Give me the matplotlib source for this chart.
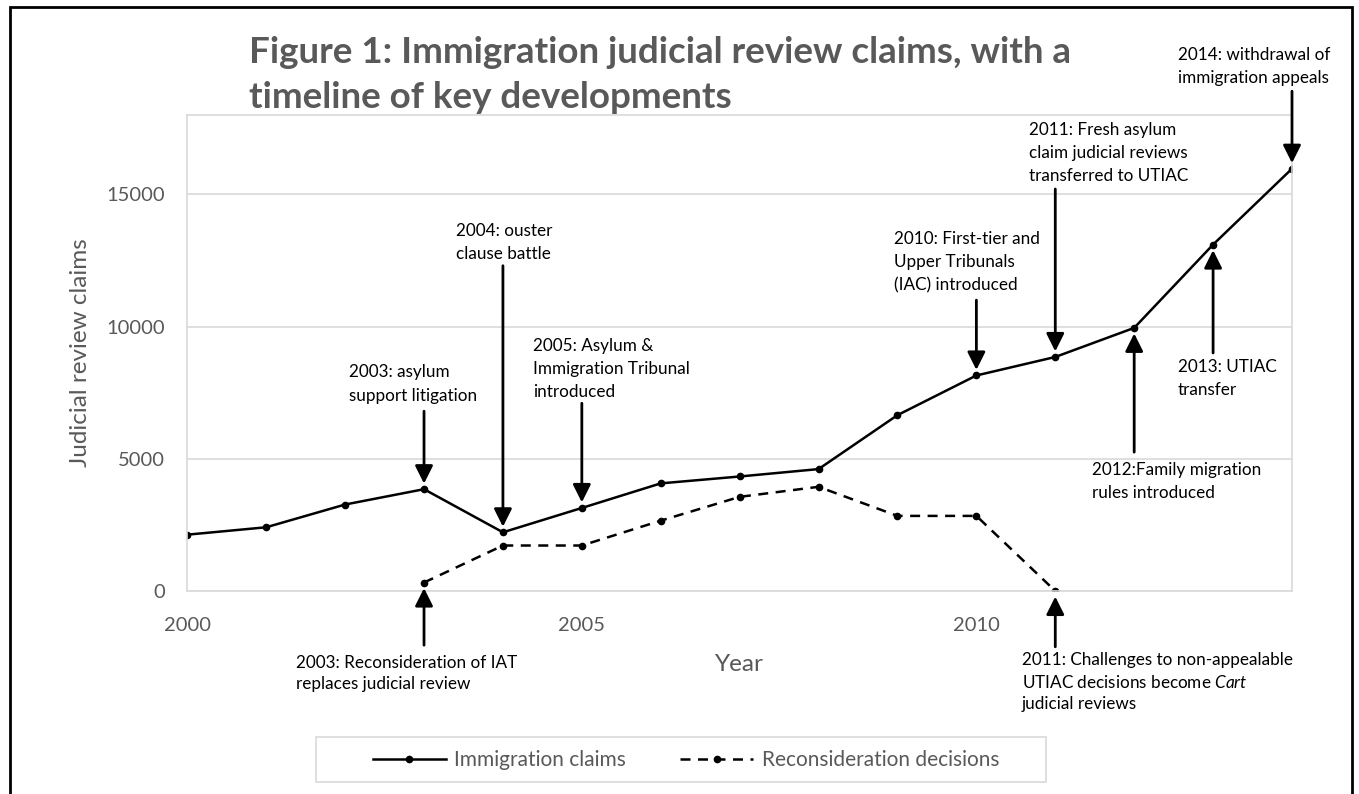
import matplotlib
matplotlib.use('Agg')
import matplotlib.pyplot as plt
from matplotlib.patches import Rectangle

plt.rcParams['font.family'] = ['Lato', 'DejaVu Sans']
plt.rcParams['mathtext.fontset'] = 'custom'
plt.rcParams['mathtext.rm'] = 'Lato'
plt.rcParams['mathtext.it'] = 'Lato:italic'

GREY = '#595959'
LIGHT = '#d9d9d9'

# data
years = list(range(2000, 2015))
claims = [2130, 2410, 3270, 3850, 2220, 3140, 4070, 4330, 4610, 6650, 8150, 8850, 9950, 13100, 15970]
recon_years = list(range(2003, 2012))
recon = [320, 1720, 1720, 2660, 3560, 3940, 2840, 2840, 0]

# timeline events: year, which series the arrow points at, where the arrow starts
event_years = [2003, 2004, 2005, 2010, 2011, 2014, 2013, 2012, 2003, 2011]
event_series = ['claims'] * 8 + ['recon'] * 2
arrow_from = [6800, 12300, 7100, 11000, 15200, 18900, 9000, 5250, -2050, -2110]
event_labels = [
    '2003: asylum\nsupport litigation',
    '2004: ouster\nclause battle',
    '2005: Asylum &\nImmigration Tribunal\nintroduced',
    '2010: First-tier and\nUpper Tribunals\n(IAC) introduced',
    '2011: Fresh asylum\nclaim judicial reviews\ntransferred to UTIAC',
    '2014: withdrawal of\nimmigration appeals',
    '2013: UTIAC\ntransfer',
    '2012:Family migration\nrules introduced',
    '2003: Reconsideration of IAT\nreplaces judicial review',
    '2011: Challenges to non-appealable\nUTIAC decisions become $\\mathit{Cart}$\njudicial reviews',
]
label_x = [2002.05, 2003.41, 2004.38, 2008.95, 2010.67, 2012.56, 2012.55, 2011.46, 2001.38, 2010.58]
label_y = [7830, 13190, 8390, 12440, 16570, 19850, 8050, 4150, -3120, -3450]
label_spacing = [1.55] * 8 + [1.42] * 2

fig = plt.figure(figsize=(13.59, 7.94), dpi=100)
ax = fig.add_axes([187.3 / 1359, 1 - 591 / 794, (1292 - 187.3) / 1359, (591 - 115) / 794])

ax.plot(years, claims, color='black', lw=1.8, marker='o', ms=4.5, label='Immigration claims')
ax.plot(recon_years, recon, color='black', lw=1.8, ls=(0, (4, 3)), marker='o', ms=4.5,
        label='Reconsideration decisions')

ax.set_xlim(2000, 2014)
ax.set_ylim(0, 18000)
ax.set_xticks([2000, 2005, 2010])
ax.set_yticks([0, 5000, 10000, 15000])
ax.tick_params(length=0, labelsize=14.5, labelcolor=GREY)
ax.tick_params(axis='x', pad=19)
ax.tick_params(axis='y', pad=16)
ax.grid(axis='y', color=LIGHT, lw=1.2)
ax.set_axisbelow(True)
for s in ax.spines.values():
    s.set_color(LIGHT)
    s.set_linewidth(1.2)

ax.set_ylabel('Judicial review claims', fontsize=17.5, color=GREY, labelpad=11)
ax.set_xlabel('Year', fontsize=17.5, color=GREY, labelpad=14)

series = {'claims': dict(zip(years, claims)), 'recon': dict(zip(recon_years, recon))}
for yr, ser, start, txt, tx, ty, sp in zip(event_years, event_series, arrow_from,
                                           event_labels, label_x, label_y, label_spacing):
    ax.annotate('', xy=(yr, series[ser][yr]), xytext=(yr, start), annotation_clip=False,
                arrowprops=dict(arrowstyle='-|>,head_length=0.9,head_width=0.45',
                                mutation_scale=12, color='black', lw=2,
                                shrinkA=0, shrinkB=4))
    ax.text(tx, ty, txt, fontsize=12.3, ha='left', va='center', linespacing=sp)

fig.text(249 / 1359, 1 - 63 / 794, 'Figure 1: Immigration judicial review claims, with a',
         fontsize=26.5, fontweight='bold', color=GREY, va='baseline')
fig.text(249 / 1359, 1 - 108 / 794, 'timeline of key developments',
         fontsize=26.5, fontweight='bold', color=GREY, va='baseline')

# legend box drawn separately so its padding matches
fig.patches.append(Rectangle((316 / 1359, 1 - 782 / 794), 730 / 1359, 45 / 794,
                             transform=fig.transFigure, fill=False, ec=LIGHT, lw=1.2))
handles, labels = ax.get_legend_handles_labels()
fig.legend(handles, labels, loc='center', bbox_to_anchor=(686 / 1359, 1 - 760 / 794),
           ncol=2, frameon=False, fontsize=15, labelcolor=GREY,
           handlelength=3.5, handletextpad=0.4, columnspacing=2.6)

# outer border
fig.patches.append(Rectangle((10 / 1359, -0.02), 1342 / 1359, 1.02 - 7 / 794,
                             transform=fig.transFigure, fill=False, ec='black', lw=2))

fig.savefig('out.png', dpi=100)
